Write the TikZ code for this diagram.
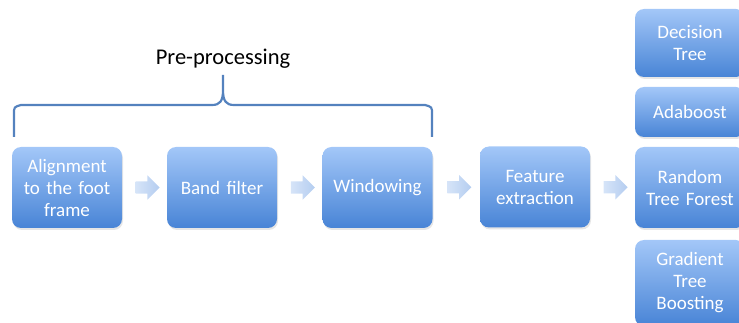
\documentclass[tikz,border=0pt]{standalone}
\usepackage{fontspec}
\setmainfont{Carlito}
\usepackage{tikz}
\usetikzlibrary{calc,shapes.arrows,shadows}

\definecolor{boxtop}{RGB}{163,199,248}
\definecolor{boxbot}{RGB}{72,132,214}
\definecolor{arrowleft}{RGB}{214,228,248}
\definecolor{arrowright}{RGB}{180,205,240}
\definecolor{braceblue}{RGB}{84,130,190}

\tikzset{
    stage/.style={rectangle, rounded corners=9pt, top color=boxtop, bottom color=boxbot,
        text=white, align=center, font=\fontsize{19}{22}\selectfont,
        minimum width=110pt, text width=104pt, inner xsep=3pt,
        drop shadow={opacity=0.2, shadow xshift=1pt, shadow yshift=-2pt}},
    flow/.style={single arrow, left color=arrowleft, right color=arrowright, draw=none,
        inner sep=0pt, inner ysep=6pt, single arrow head extend=6pt, minimum height=24pt}
}

\begin{document}
\begin{tikzpicture}[x=1pt, y=-1pt]
    \useasboundingbox (0,0) rectangle (739,323);

    \node[stage, minimum height=81pt] (align) at (67,187.5) {Alignment\\to the foot\\frame};
    
    \node[stage, minimum height=81pt] (band) at (222,187.5) {Band filter};
    
    \node[stage, minimum height=81pt] (window) at (377.5,187.5) {Windowing};
    
    \node[stage, minimum height=81pt] (feature) at (535,187) {Feature\\extraction};
    
    \node[stage, minimum height=68pt] (dtree) at (690,43) {Decision\\Tree};
    
    \node[stage, minimum height=50pt] (ada) at (690,112) {Adaboost};
    
    \node[stage, minimum height=81pt] (forest) at (690,187.5) {Random\\Tree Forest};
    
    \node[stage, minimum height=86pt] (boost) at (690,283) {Gradient\\Tree\\Boosting};
    
    \node[flow] (a1) at ($(align.east)!0.5!(band.west)$) {};
    \node[flow] (a2) at ($(band.east)!0.5!(window.west)$) {};
    \node[flow] (a3) at ($(window.east)!0.5!(feature.west)$) {};
    \node[flow] (a4) at ($(feature.east)!0.5!(forest.west)$) {};
    
    % brace over the pre-processing steps
    \draw[braceblue, line width=2.2pt]
        (14,137) -- (14,114) .. controls (14,107) .. (21,105) -- (212,105)
        .. controls (220,105) and (223,101) .. (223,90) -- (223,75)
        (223,90) .. controls (223,101) and (226,105) .. (234,105) -- (425,105)
        .. controls (432,107) .. (432,114) -- (432,137);
    
    \node[font=\fontsize{22.5}{26}\selectfont] (pre) at (223,59) {Pre-processing};
    
\end{tikzpicture}
\end{document}
